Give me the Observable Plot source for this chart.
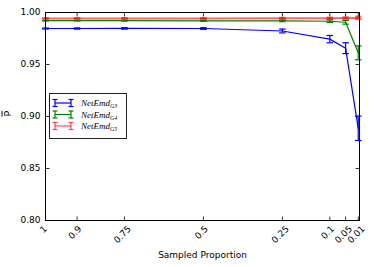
<!DOCTYPE html>
<html>
<head>
<meta charset="utf-8">
<script src="https://cdn.jsdelivr.net/npm/d3@7"></script>
<script src="https://cdn.jsdelivr.net/npm/@observablehq/plot@0.6"></script>
<style>
  html, body { margin: 0; padding: 0; background: white; }
  #wrap { position: relative; width: 374px; height: 267px; overflow: hidden; }
  #legend { position: absolute; left: 49px; top: 93px; }
</style>
</head>
<body>
<div id="wrap"></div>
<script>
// ---- data ----
const proportions = [1, 0.9, 0.75, 0.5, 0.25, 0.1, 0.05, 0.01];
const tickLabels = ["1", "0.9", "0.75", "0.5", "0.25", "0.1", "0.05", "0.01"];
const yTicks = [0.80, 0.85, 0.90, 0.95, 1.00];
const seriesNames = ["G3", "G4", "G5"];
const seriesColors = ["#0000ff", "#008000", "#ff0000"];
const g3Mean = [0.9846, 0.9846, 0.9847, 0.9846, 0.9822, 0.9744, 0.9657, 0.8886];
const g3Err  = [0.0005, 0.0006, 0.0007, 0.0008, 0.0018, 0.0035, 0.0052, 0.0117];
const g4Mean = [0.9921, 0.9921, 0.9921, 0.9920, 0.9919, 0.9916, 0.9906, 0.9612];
const g4Err  = [0.0002, 0.0003, 0.0004, 0.0005, 0.0007, 0.0012, 0.0018, 0.0067];
const g5Mean = [0.9943, 0.9943, 0.9943, 0.9943, 0.9944, 0.9945, 0.9946, 0.9948];
const g5Err  = [0.0001, 0.0002, 0.0003, 0.0004, 0.0005, 0.0006, 0.0008, 0.0012];

const means = [g3Mean, g4Mean, g5Mean];
const errs = [g3Err, g4Err, g5Err];
const styles = [
  {strokeWidth: 1.2, strokeOpacity: 1},
  {strokeWidth: 1.2, strokeOpacity: 1},
  {strokeWidth: 2, strokeOpacity: 0.6}
];

// ---- custom symbols ----
const rOf = s => Math.sqrt(s / Math.PI);
const hLine = {draw(c, s) { const r = rOf(s); c.moveTo(-r, 0); c.lineTo(r, 0); }};
const tUp = {draw(c, s) { const r = rOf(s); c.moveTo(0, 0); c.lineTo(0, -r); }};
const tDown = {draw(c, s) { const r = rOf(s); c.moveTo(0, 0); c.lineTo(0, r); }};
const tRight = {draw(c, s) { const r = rOf(s); c.moveTo(0, 0); c.lineTo(r, 0); }};
const tLeft = {draw(c, s) { const r = rOf(s); c.moveTo(0, 0); c.lineTo(-r, 0); }};

const marks = [];
const tickStyle = {fill: "none", stroke: "#333", strokeWidth: 1, r: 4};
marks.push(Plot.dot(proportions, {x: d => d, frameAnchor: "bottom", symbol: tUp, ...tickStyle}));
marks.push(Plot.dot(proportions, {x: d => d, frameAnchor: "top", symbol: tDown, ...tickStyle}));
marks.push(Plot.dot(yTicks, {y: d => d, frameAnchor: "left", symbol: tRight, ...tickStyle}));
marks.push(Plot.dot(yTicks, {y: d => d, frameAnchor: "right", symbol: tLeft, ...tickStyle}));

seriesNames.forEach((name, si) => {
  const rows = proportions.map((p, i) => ({p, m: means[si][i], lo: means[si][i] - errs[si][i], hi: means[si][i] + errs[si][i]}));
  const st = {stroke: seriesColors[si], ...styles[si]};
  marks.push(Plot.line(rows, {x: "p", y: "m", ...st}));
  marks.push(Plot.ruleX(rows, {x: "p", y1: "lo", y2: "hi", ...st}));
  marks.push(Plot.dot(rows, {x: "p", y: "lo", symbol: hLine, r: 3.3, fill: "none", ...st}));
  marks.push(Plot.dot(rows, {x: "p", y: "hi", symbol: hLine, r: 3.3, fill: "none", ...st}));
});

marks.push(Plot.frame({stroke: "black", strokeWidth: 1}));

// x tick labels (rotated, centred under tick)
const charW = ch => (ch === "." ? 0.318 : 0.636) * 9;
proportions.forEach((p, i) => {
  const L = [...tickLabels[i]].reduce((a, ch) => a + charW(ch), 0);
  marks.push(Plot.text([p], {x: d => d, text: () => tickLabels[i], frameAnchor: "bottom",
    rotate: -45, textAnchor: "end", dx: L * 0.354, dy: 9, fontSize: 9, fill: "black"}));
});
// y tick labels
marks.push(Plot.text(yTicks, {y: d => d, text: d => d.toFixed(2), frameAnchor: "left",
  textAnchor: "end", dx: -5, fontSize: 9, fill: "black"}));
// axis titles
marks.push(Plot.text(["Sampled Proportion"], {text: d => d, frameAnchor: "bottom", dy: 37, fontSize: 9, fill: "black"}));
marks.push(Plot.text(["P"], {text: d => d, frameAnchor: "left", dx: -38, rotate: -90, fontSize: 9.5, fill: "black"}));

const chart = Plot.plot({
  width: 374, height: 267,
  marginLeft: 45, marginRight: 15, marginTop: 12, marginBottom: 47,
  x: {type: "linear", domain: [1, 0.006], axis: null},
  y: {type: "linear", domain: [0.8, 1.0], axis: null},
  style: {fontFamily: "DejaVu Sans", fontSize: "9px", background: "white", overflow: "visible"},
  marks
});
d3.select(chart).selectAll("text").filter(function() { return this.textContent === "P"; })
  .style("text-decoration", "overline");
const wrap = document.getElementById("wrap");
wrap.appendChild(chart);

// legend (inside plot area, as in reference)
const lw = 77, lh = 45;
const leg = d3.select(wrap).append("svg").attr("id", "legend").attr("width", lw + 2).attr("height", lh + 2);
leg.append("rect").attr("x", 0.5).attr("y", 0.5).attr("width", lw).attr("height", lh)
  .attr("fill", "white").attr("stroke", "#222").attr("stroke-width", 1);
seriesNames.forEach((name, i) => {
  const cy = 10 + i * 11.5;
  const g = leg.append("g").attr("stroke", seriesColors[i]).attr("stroke-width", 1.2)
    .attr("stroke-opacity", i === 2 ? 0.7 : 1).attr("fill", "none");
  g.append("line").attr("x1", 6).attr("x2", 22).attr("y1", cy).attr("y2", cy);
  [6, 22].forEach(x => {
    g.append("line").attr("x1", x).attr("x2", x).attr("y1", cy - 3.5).attr("y2", cy + 3.5);
    g.append("line").attr("x1", x - 2.5).attr("x2", x + 2.5).attr("y1", cy - 3.5).attr("y2", cy - 3.5);
    g.append("line").attr("x1", x - 2.5).attr("x2", x + 2.5).attr("y1", cy + 3.5).attr("y2", cy + 3.5);
  });
  const t = leg.append("text").attr("x", 32).attr("y", cy + 3)
    .attr("font-family", "Liberation Serif").attr("font-style", "italic").attr("font-size", 9).attr("fill", "black");
  t.append("tspan").text("NetEmd");
  t.append("tspan").attr("font-size", 6).attr("dy", 2).text(name);
});
</script>
</body>
</html>
